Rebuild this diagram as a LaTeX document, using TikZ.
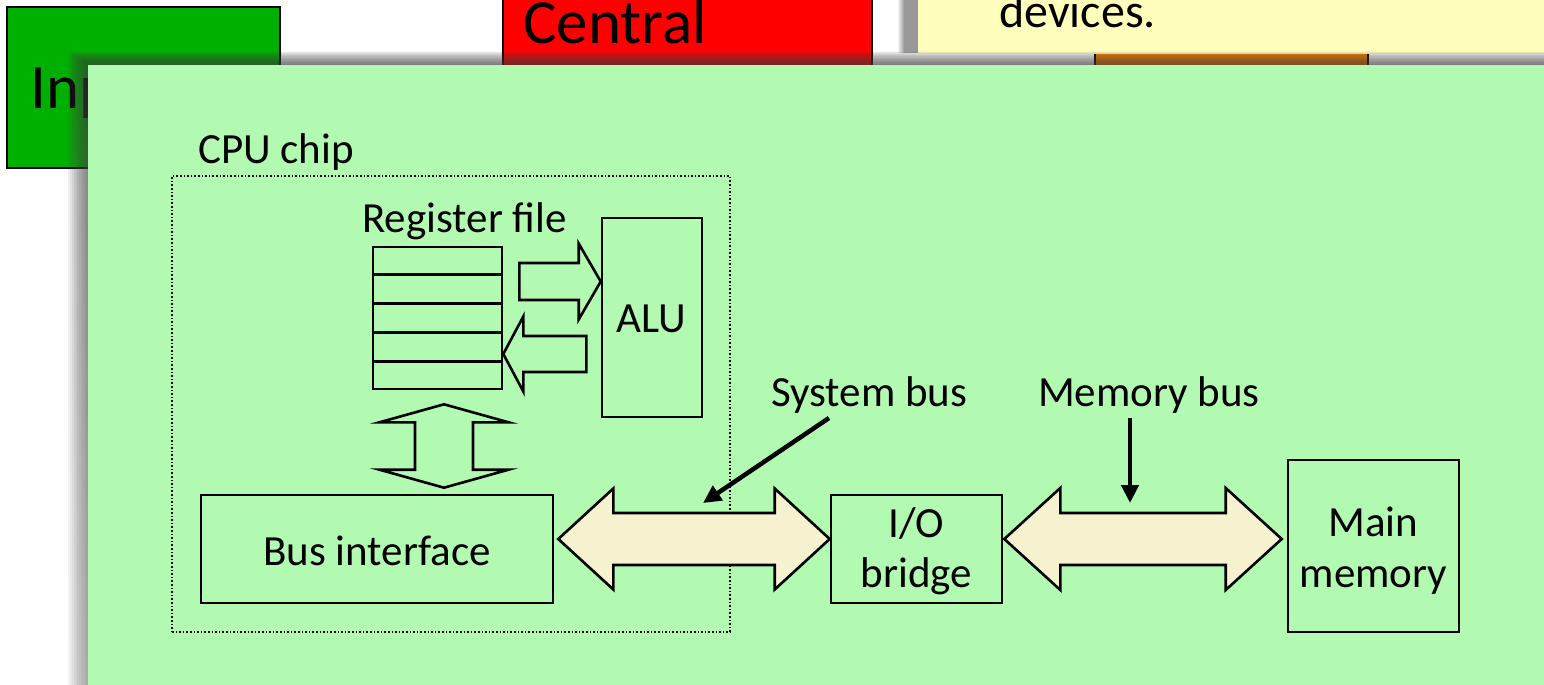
\documentclass[tikz,border=0pt]{standalone}
\usepackage{fontspec}
\setmainfont{Carlito}
\usetikzlibrary{arrows.meta,calc}

\definecolor{panelgreen}{HTML}{B2FAB2}
\definecolor{busfill}{HTML}{F6F2CF}
\definecolor{inputgreen}{HTML}{00B000}
\definecolor{notefill}{HTML}{FFFEBC}
\definecolor{shade}{HTML}{40639D}
\definecolor{orangebox}{HTML}{FF8000}

% horizontal double-headed block arrow: left tip, right tip, shaft half, head half, head length
\newcommand\hdblarrow[5]{%
  \draw[fat] (#1) -- ($(#1)+(#5,-#4)$) -- ($(#1)+(#5,-#3)$) -- ($(#2)+(-#5,-#3)$)
    -- ($(#2)+(-#5,-#4)$) -- (#2) -- ($(#2)+(-#5,#4)$) -- ($(#2)+(-#5,#3)$)
    -- ($(#1)+(#5,#3)$) -- ($(#1)+(#5,#4)$) -- cycle;}
% horizontal single block arrow: tail, tip, shaft half, head half, signed head length
\newcommand\hblkarrow[5]{%
  \draw[hollow] ($(#1)+(0,-#3)$) -- ($(#2)+({-(#5)},-#3)$) -- ($(#2)+({-(#5)},-#4)$)
    -- (#2) -- ($(#2)+({-(#5)},#4)$) -- ($(#2)+({-(#5)},#3)$) -- ($(#1)+(0,#3)$) -- cycle;}

\begin{document}
\begin{tikzpicture}[x=1pt,y=-1pt,
  box/.style={draw=black, line width=2.6pt, inner sep=0pt},
  lbl/.style={font=\fontsize{43}{50}\selectfont, inner sep=0pt, anchor=base},
  lblw/.style={lbl, anchor=base west},
  bigtxt/.style={font=\fontsize{63}{70}\selectfont, inner sep=0pt, anchor=base west},
  fat/.style={draw=black, line width=2.6pt, line join=miter, fill=busfill},
  hollow/.style={draw=black, line width=2.6pt, line join=miter},
  pointer/.style={line width=4.5pt, -{Triangle[length=18pt,width=17pt]}},
]
\useasboundingbox (0,0) rectangle (1544,685);
\clip (0,0) rectangle (1544,685);

% ---- slides underneath ----
\node[box, fill=inputgreen, minimum width=273pt, minimum height=161pt] (inputbox) at (143.5,87.5) {};
\node[bigtxt] (inputtxt) at (30,108) {Inp};

\node[box, fill=red, minimum width=369pt, minimum height=140pt] (cpubox) at (687.5,30) {};
\node[bigtxt] (cputxt) at (523,44) {Central};

\node[box, fill=orangebox, minimum width=273pt, minimum height=70pt] (orangebox) at (1231.5,65) {};

% note shadow and note
\shade[left color=white, right color=black!40] (897,-5) rectangle (904,53);
\fill[black!40] (904,-5) rectangle (918,53);
\node[fill=notefill, inner sep=0pt, minimum width=640pt, minimum height=75pt] (note) at (1238,17) {};
\node[font=\fontsize{48}{55}\selectfont, inner sep=0pt, anchor=base west] (notetxt) at (999,28) {devices.};

% ---- panel shadow ----
\foreach \k in {1,...,12}
  \fill[shade, opacity=0.046] ({90-1.8*\k},{66-1.2*\k}) rectangle (1560,700);

% ---- panel ----
\fill[panelgreen] (88,65) rectangle (1560,700);

% CPU chip outline
\node[draw=black, line width=1.6pt, dotted, inner sep=0pt, minimum width=558pt, minimum height=456pt] (chip) at (451,404) {};
\node[lblw] (chiplbl) at (198,163) {CPU chip};

% register file
\node[lblw] (reglbl) at (362,232) {Register file};
\node[box, minimum width=129pt, minimum height=142pt] (regs) at (437.5,318) {};
\foreach \k in {1,...,4}
  \draw[line width=2.6pt] ($(regs.north west)!\k/5!(regs.south west)$) -- ($(regs.north east)!\k/5!(regs.south east)$);

% ALU
\node[box, minimum width=100pt, minimum height=199pt] (alu) at (652,317.5) {};
\node[lbl] (alulbl) at (651,332) {ALU};

% block arrows between register file and ALU
\coordinate (aluin) at ($(alu.west)+(0,-36)$);
\coordinate (regout) at ($(regs.east |- aluin)+(16,0)$);
\hblkarrow{regout}{aluin}{18.5}{38}{22}
\coordinate (regin) at ($(regs.east)+(0,36)$);
\coordinate (aluout) at ($(regin)+(83,0)$);
\hblkarrow{aluout}{regin}{18}{37.5}{-20}

% bus interface
\node[box, minimum width=352pt, minimum height=108pt] (bus) at (377,549) {};
\node[lbl] (buslbl) at (377,565) {Bus interface};

% register file <-> bus interface
\coordinate (vtop) at ($(regs.south)+(6.5,14)$);
\coordinate (vbot) at ($(vtop |- bus.north)+(0,-6)$);
\draw[hollow] (vtop) -- ($(vtop)+(64.5,18)$) -- ($(vtop)+(29,18)$) -- ($(vbot)+(29,-18)$)
  -- ($(vbot)+(64.5,-18)$) -- (vbot) -- ($(vbot)+(-64.5,-18)$) -- ($(vbot)+(-29,-18)$)
  -- ($(vtop)+(-29,18)$) -- ($(vtop)+(-64.5,18)$) -- cycle;

% I/O bridge and main memory
\node[box, minimum width=171pt, minimum height=108pt] (io) at (916.5,549) {};
\node[lbl] (iolbl1) at (916.5,537) {I/O};
\node[lbl] (iolbl2) at (916.5,587) {bridge};
\node[box, minimum width=171pt, minimum height=172pt] (mem) at (1373.5,546) {};
\node[lbl] (memlbl1) at (1373.5,536) {Main};
\node[lbl] (memlbl2) at (1373.5,587) {memory};

% system bus and memory bus
\coordinate (sysL) at ($(bus.east)+(4,-10)$);
\coordinate (sysR) at (io.west |- sysL);
\hdblarrow{sysL}{sysR}{26}{50.5}{55}
\coordinate (memL) at ($(io.east |- sysL)+(1,0)$);
\coordinate (memR) at ($(mem.west |- sysL)+(-5,0)$);
\hdblarrow{memL}{memR}{26}{51}{56}

% bus labels with pointers
\node[lblw] (syslbl) at (771,406) {System bus};
\coordinate (sysfrom) at (829,418);
\coordinate (systo) at (703,503);
\draw[pointer] (sysfrom) -- (systo);
\node[lblw] (memlbl) at (1038,406) {Memory bus};
\coordinate (memfrom) at (1130,418);
\coordinate (memto) at (1130,503);
\draw[pointer] (memfrom) -- (memto);
\end{tikzpicture}
\end{document}
